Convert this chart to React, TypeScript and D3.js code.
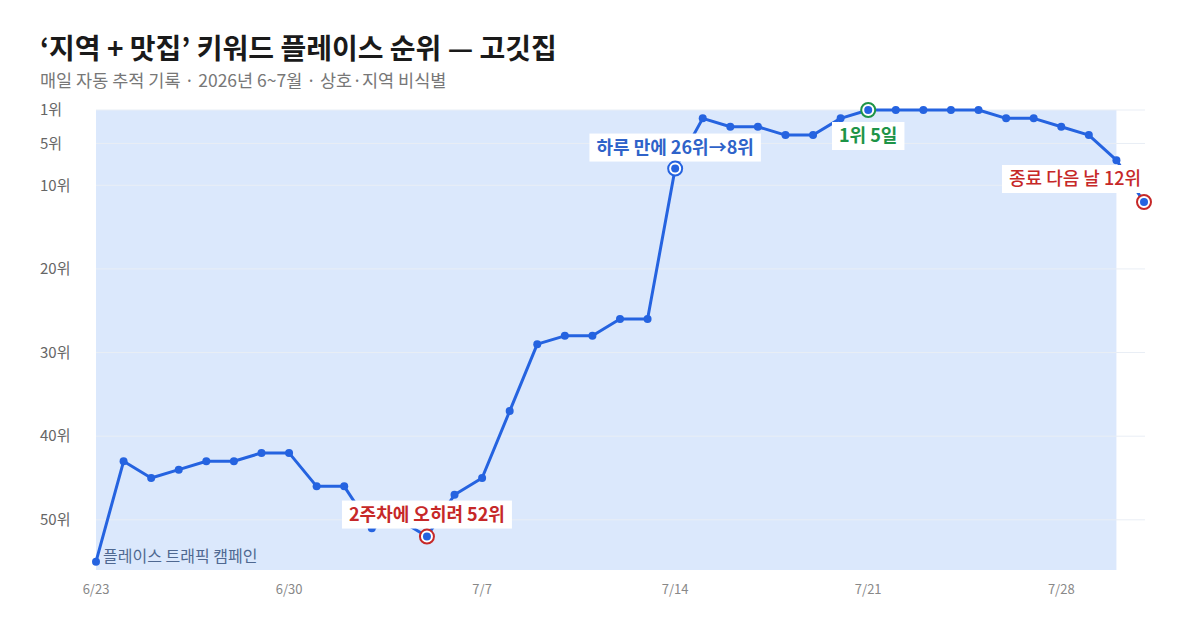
import * as d3 from 'd3';
import { useEffect, useRef } from 'react';

const W = 1200;
const H = 640;
const font = '"Noto Sans CJK KR", "Noto Sans", sans-serif';

// daily rank, 2026-06-23 .. 2026-07-31
const startDay = '2026-06-23';
const ranks = [
  55, 43, 45, 44, 43, 43, 42, 42, 46, 46, 51, 50, 52, 47, 45, 37, 29, 28, 28, 26,
  26, 8, 2, 3, 3, 4, 4, 2, 1, 1, 1, 1, 1, 2, 2, 3, 4, 7, 12,
];
const rankTicks = [1, 5, 10, 20, 30, 40, 50];
const dateTicks = ['2026-06-23', '2026-06-30', '2026-07-07', '2026-07-14', '2026-07-21', '2026-07-28'];
const campaign = { from: '2026-06-23', to: '2026-07-30', label: '플레이스 트래픽 캠페인' };
const notes = [
  { date: '2026-07-05', text: '2주차에 오히려 52위', color: '#c62828', ring: '#c62828', dy: -22, anchor: 'middle', weight: 700 },
  { date: '2026-07-14', text: '하루 만에 26위→8위', color: '#2f63c9', ring: '#2563e0', dy: -21, anchor: 'middle', weight: 700 },
  { date: '2026-07-21', text: '1위 5일', color: '#1e9447', ring: '#1e9447', dy: 26, anchor: 'middle', weight: 700 },
  { date: '2026-07-31', text: '종료 다음 날 12위', color: '#c62828', ring: '#c62828', dy: -23, anchor: 'end', weight: 500 },
];

const parse = d3.utcParse('%Y-%m-%d');
const day0 = parse(startDay)!;
const points = ranks.map((r, i) => ({ date: d3.utcDay.offset(day0, i), rank: r }));

export default function App() {
  const svgRef = useRef<SVGSVGElement>(null);

  useEffect(() => {
    const svg = d3.select(svgRef.current);
    svg.selectAll('*').remove();

    const x = d3
      .scaleUtc()
      .domain([day0, points[points.length - 1].date])
      .range([96, 1144]);
    const y = d3.scaleLinear().domain([1, 56]).range([110, 570]);

    svg
      .append('text')
      .attr('x', 40)
      .attr('y', 59)
      .attr('font-size', 28)
      .attr('font-weight', 700)
      .attr('fill', '#1a1a1a')
      .text('‘지역 + 맛집’ 키워드 플레이스 순위 — 고깃집');
    svg
      .append('text')
      .attr('x', 40)
      .attr('y', 87)
      .attr('font-size', 17.5)
      .attr('fill', '#777')
      .text('매일 자동 추적 기록 · 2026년 6~7월 · 상호·지역 비식별');

    // campaign band
    svg
      .append('rect')
      .attr('x', x(parse(campaign.from)!))
      .attr('y', y(1))
      .attr('width', x(parse(campaign.to)!) - x(parse(campaign.from)!))
      .attr('height', y(56) - y(1))
      .attr('fill', '#dbe8fc');

    // grid + y labels
    const grid = svg.append('g');
    grid
      .selectAll('line')
      .data(rankTicks)
      .join('line')
      .attr('x1', x.range()[0])
      .attr('x2', x.range()[1] + 1)
      .attr('y1', (d) => y(d))
      .attr('y2', (d) => y(d))
      .attr('stroke', '#e9eef5')
      .attr('stroke-width', 1);
    grid
      .selectAll('text')
      .data(rankTicks)
      .join('text')
      .attr('x', 40)
      .attr('y', (d) => y(d))
      .attr('dy', '0.35em')
      .attr('font-size', 15)
      .attr('fill', '#666')
      .text((d) => `${d}위`);

    svg
      .append('g')
      .selectAll('text')
      .data(dateTicks.map((d) => parse(d)!))
      .join('text')
      .attr('x', (d) => x(d))
      .attr('y', 594)
      .attr('text-anchor', 'middle')
      .attr('font-size', 13)
      .attr('fill', '#888')
      .text((d) => d3.utcFormat('%-m/%-d')(d));

    svg
      .append('text')
      .attr('x', x(parse(campaign.from)!) + 7)
      .attr('y', y(56) - 8)
      .attr('font-size', 16)
      .attr('fill', '#4f6891')
      .text(campaign.label);

    const line = d3
      .line<(typeof points)[number]>()
      .x((d) => x(d.date))
      .y((d) => y(d.rank));
    svg
      .append('path')
      .datum(points)
      .attr('d', line)
      .attr('fill', 'none')
      .attr('stroke', '#2563e0')
      .attr('stroke-width', 3)
      .attr('stroke-linejoin', 'round');

    svg
      .append('g')
      .selectAll('circle')
      .data(points)
      .join('circle')
      .attr('cx', (d) => x(d.date))
      .attr('cy', (d) => y(d.rank))
      .attr('r', 4)
      .attr('fill', '#2563e0');

    // annotations
    notes.forEach((n) => {
      const p = points.find((q) => +q.date === +parse(n.date)!)!;
      const px = x(p.date);
      const py = y(p.rank);
      const g = svg.append('g');
      const bg = g.append('rect').attr('fill', '#fff');
      const t = g
        .append('text')
        .attr('x', n.anchor === 'end' ? px - 3 : px)
        .attr('y', py + n.dy)
        .attr('dy', '0.35em')
        .attr('text-anchor', n.anchor)
        .attr('font-size', 18)
        .attr('font-weight', n.weight)
        .attr('fill', n.color)
        .text(n.text);
      const b = (t.node() as SVGTextElement).getBBox();
      bg.attr('x', b.x - 7)
        .attr('y', py + n.dy - 14)
        .attr('width', b.width + 14)
        .attr('height', 28);

      svg
        .append('circle')
        .attr('cx', px)
        .attr('cy', py)
        .attr('r', 7)
        .attr('fill', '#fff')
        .attr('stroke', n.ring)
        .attr('stroke-width', 2);
      svg
        .append('circle')
        .attr('cx', px)
        .attr('cy', py)
        .attr('r', 4)
        .attr('fill', '#2563e0');
    });
  }, []);

  return (
    <div style={{ position: 'fixed', left: 0, top: 0 }}>
      <svg ref={svgRef} width={W} height={H} style={{ display: 'block', fontFamily: font, background: '#fff' }} />
    </div>
  );
}
